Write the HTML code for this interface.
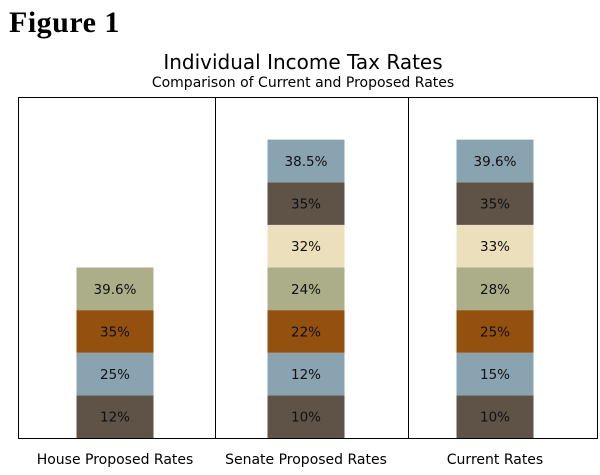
<!DOCTYPE html>
<html><head><meta charset="utf-8"><style>
body{margin:0;background:#fff;width:600px;height:471px;overflow:hidden;font-family:"DejaVu Sans","Liberation Sans",sans-serif}
</style></head><body>
<svg width="600" height="471">
<text x="9" y="32" font-family="Liberation Serif,serif" font-weight="bold" font-size="30" letter-spacing="0.5">Figure 1</text>
<text x="303" y="69" text-anchor="middle" font-size="20">Individual Income Tax Rates</text>
<text x="303" y="87" text-anchor="middle" font-size="14">Comparison of Current and Proposed Rates</text>
<rect x="18.5" y="97.5" width="579" height="341" fill="none" stroke="#000"/>
<g id="g"></g>
</svg>
<script>
const categories=["House Proposed Rates","Senate Proposed Rates","Current Rates"];
const house=["12%","25%","35%","39.6%"];
const senate=["10%","12%","22%","24%","32%","35%","38.5%"];
const current=["10%","15%","25%","28%","33%","35%","39.6%"];
const series=[house,senate,current];
const colorsHouse=["#5f5247","#8aa3b1","#93500f","#abae88"];
const colorsStd=["#5f5247","#8aa3b1","#93500f","#abae88","#ecdfbc","#5f5247","#8aa3b1"];
const plotLeft=18,plotRight=598,plotTop=97,plotBottom=438,maxSlots=8;
const xCenter=i=>[115,306,495][i];
const y=v=>plotBottom-v*(plotBottom-plotTop)/maxSlots;
const g=document.getElementById('g');
const NS="http://www.w3.org/2000/svg";
[215,408].forEach((x,i)=>{const l=document.createElementNS(NS,'line');
l.setAttribute('x1',x+.5);l.setAttribute('x2',x+.5);l.setAttribute('y1',plotTop);l.setAttribute('y2',plotBottom);l.setAttribute('stroke','#000');


g.appendChild(l);});
series.forEach((s,i)=>{
 const cols=i===0?colorsHouse:colorsStd;
 s.forEach((lab,j)=>{
  const r=document.createElementNS(NS,'rect');
  r.setAttribute('x',xCenter(i)-38.5);r.setAttribute('width',77);
  r.setAttribute('y',y(j+1));r.setAttribute('height',y(j)-y(j+1));r.setAttribute('fill',cols[j]);
  
  
  g.appendChild(r);
  const t=document.createElementNS(NS,'text');
  t.setAttribute('x',xCenter(i));t.setAttribute('y',(y(j)+y(j+1))/2+5);
  t.setAttribute('text-anchor','middle');t.setAttribute('font-size','13.5');t.setAttribute('fill','#111');
  t.textContent=lab;
  
  
  g.appendChild(t);
 });
 const c=document.createElementNS(NS,'text');
 c.setAttribute('x',xCenter(i));c.setAttribute('y',464);c.setAttribute('text-anchor','middle');c.setAttribute('font-size','14');
 c.textContent=categories[i];
 
 
 g.appendChild(c);
});
</script>
</body></html>
